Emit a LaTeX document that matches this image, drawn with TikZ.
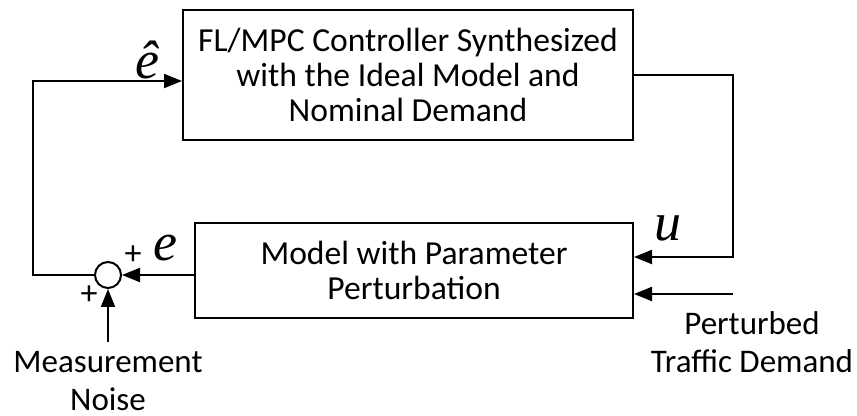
\documentclass[tikz,border=0pt]{standalone}
\usepackage{fontspec}
\setmainfont{Carlito}
\newfontfamily\symfont{Liberation Serif}
\usetikzlibrary{arrows.meta}

\begin{document}
\begin{tikzpicture}[x=0.5pt, y=-0.5pt, line width=1pt,
  block/.style={draw, align=center, inner sep=0pt},
  lbl/.style={font=\fontsize{16.8}{17.5}\selectfont, align=center},
  sig/.style={-{Triangle[length=9pt,width=7pt]}},
  var/.style={font=\fontsize{27}{27}\symfont\itshape, inner sep=0pt},
  sgn/.style={font=\fontsize{17}{17}\selectfont, inner sep=0pt}]
  \useasboundingbox (0,0) rectangle (857,416);
  % controller and plant
  \node[block, lbl, minimum width=225pt, minimum height=65pt] (ctrl) at (408,75)
    {FL/MPC Controller Synthesized\\with the Ideal Model and\\Nominal Demand};
  \node[block, lbl, minimum width=219pt, minimum height=47.5pt] (plant) at (414,270.5)
    {Model with Parameter\\Perturbation};
  % summing junction
  \node[draw, circle, minimum size=13pt, inner sep=0pt] (sum) at (108,275) {};

  \coordinate (uin) at ([yshift=6.75pt]plant.east);
  \coordinate (din) at ([yshift=-11.75pt]plant.east);
  \coordinate (ucorner) at (733,257);
  \coordinate (dsrc) at (733,294);
  \coordinate (ehatin) at ([yshift=-3pt]ctrl.west);
  \coordinate (fbcorner) at (33,275);
  \coordinate (nsrc) at (108,342);

  % connectors
  \draw[sig] (ctrl.east) -| (ucorner) -- (uin);
  \draw[sig] (dsrc) -- (din);
  \draw[sig] (plant.west |- sum) -- (sum.east);
  \draw[sig] (sum.west) -- (fbcorner) |- (ehatin);
  \draw[sig] (nsrc) -- (sum.south);

  % labels
  \node[var] (ehat) at (147,60) {\^e};
  \node[var] (elbl) at (165,248) {e};
  \node[var] (ulbl) at (668,228) {u};
  \node[sgn] (ptop) at (133,255) {+};
  \node[sgn] (pbot) at (89,295) {+};
  \node[lbl, font=\fontsize{16.5}{19}\selectfont] (noise) at (108,381) {Measurement\\Noise};
  \node[lbl, font=\fontsize{16.5}{19}\selectfont] (dist) at (752,342) {Perturbed\\Traffic Demand};
\end{tikzpicture}
\end{document}
